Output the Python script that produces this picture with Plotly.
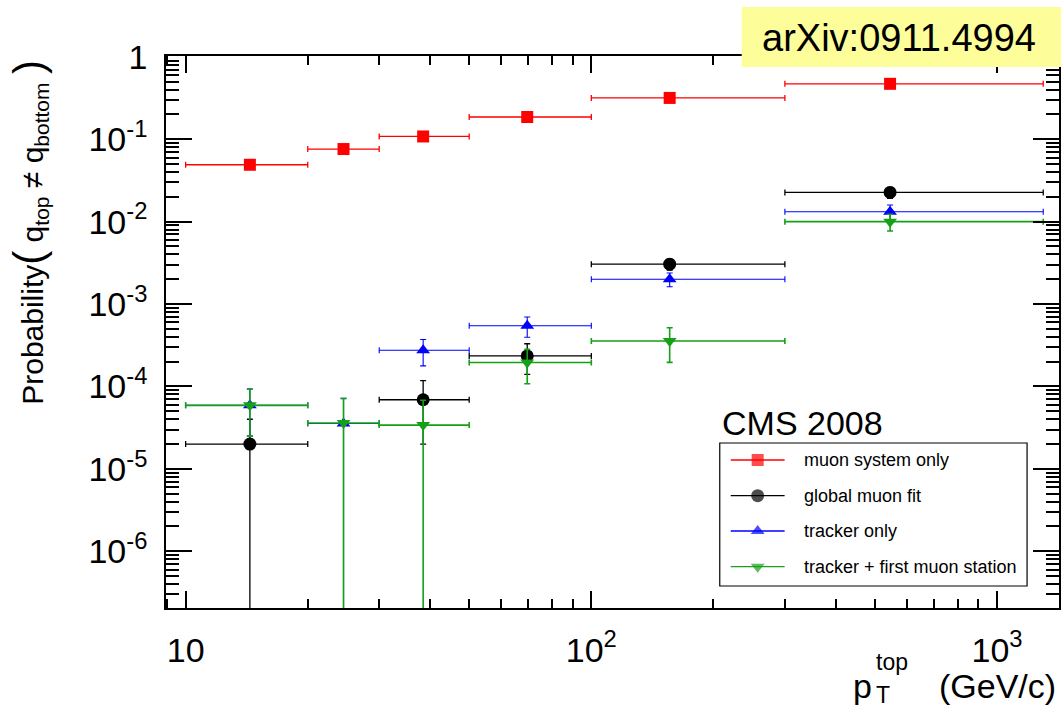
import plotly.graph_objects as go

# pT bins of the top quark (GeV/c) and mean pT inside each bin
bin_low = [10, 20, 30, 50, 100, 300]
bin_high = [20, 30, 50, 100, 300, 1300]
pt_mean = [14.4, 24.5, 38.5, 69.5, 156, 545]

# charge mis-assignment probability per reconstruction method
muon_system = [0.049, 0.076, 0.108, 0.186, 0.317, 0.47]
global_fit = [2.0e-5, None, 6.9e-5, 2.35e-4, 3.05e-3, 0.0226]
global_fit_err = [2.0e-5, None, 4.9e-5, 9.5e-5, 4.6e-4, 3.5e-3]
tracker = [5.9e-5, 3.55e-5, 2.75e-4, 5.46e-4, 2.0e-3, 0.0132]
tracker_err = [3.4e-5, 3.55e-5, 9.7e-5, 1.5e-4, 3.8e-4, 2.7e-3]
tracker_station = [5.9e-5, 3.6e-5, 3.4e-5, 1.95e-4, 3.56e-4, 0.0100]
tracker_station_err = [3.4e-5, 3.6e-5, 3.4e-5, 8.7e-5, 1.6e-4, 2.3e-3]

x_tick_vals = [10, 100, 1000]
x_tick_text = ["10", "10<sup>2</sup>", "10<sup>3</sup>"]
y_tick_vals = [1e-6, 1e-5, 1e-4, 1e-3, 1e-2, 1e-1, 1]
y_tick_text = ["10<sup>-6</sup>", "10<sup>-5</sup>", "10<sup>-4</sup>",
               "10<sup>-3</sup>", "10<sup>-2</sup>", "10<sup>-1</sup>", "1"]

legend_names = ["muon system only", "global muon fit", "tracker only",
                "tracker + first muon station"]

W, H = 1063, 710
ML, MR, MT, MB = 166, 2, 56, 102
PW, PH = W - ML - MR, H - MT - MB
FONT = "Liberation Sans, Arial, Helvetica, sans-serif"


def px(xp):
    return (xp - ML) / PW


def py(yp):
    return (H - MB - yp) / PH


# name, values, y errors, colour, marker, marker size, error-bar width
series = [
    (legend_names[0], muon_system, None, "#ff0000", "square", 12, 1.3),
    (legend_names[1], global_fit, global_fit_err, "#000000", "circle", 13, 1.3),
    (legend_names[2], tracker, tracker_err, "#0000ff", "triangle-up", 12, 1.1),
    (legend_names[3], tracker_station, tracker_station_err, "#15a015", "triangle-down", 12, 1.6),
]

err_plus = [h - m for h, m in zip(bin_high, pt_mean)]
err_minus = [m - l for l, m in zip(bin_low, pt_mean)]

fig = go.Figure()

for name, vals, errs, color, symbol, size, lw in series:
    keep = [i for i, v in enumerate(vals) if v is not None]
    xs = [pt_mean[i] for i in keep]
    ys = [vals[i] for i in keep]
    tr = dict(
        x=xs, y=ys, mode="markers", name=name, showlegend=False,
        marker=dict(symbol=symbol, size=size, color=color, line=dict(width=0)),
        error_x=dict(type="data", symmetric=False,
                     array=[err_plus[i] for i in keep],
                     arrayminus=[err_minus[i] for i in keep],
                     color=color, thickness=lw, width=3),
        cliponaxis=True,
    )
    if errs is not None:
        tr["error_y"] = dict(type="data", array=[errs[i] for i in keep],
                             color=color, thickness=lw, width=3)
    fig.add_trace(go.Scatter(**tr))

# legend box drawn on a pixel-based overlay axis pair
rows = [460, 495.7, 531, 566.7]
for (name, _, _, color, symbol, size, _), ry in zip(series, rows):
    fig.add_trace(go.Scatter(
        x=[732 - ML, 759 - ML, 786 - ML], y=[ry - MT] * 3,
        xaxis="x2", yaxis="y2", mode="lines+markers", showlegend=False,
        hoverinfo="skip",
        line=dict(color=color, width=1.3),
        marker=dict(symbol=symbol, size=[0, size, 0], color=color, line=dict(width=0)),
    ))

minor_x = [m * 10 ** d for d in range(0, 4) for m in range(2, 10)]
minor_y = [m * 10.0 ** d for d in range(-7, 1) for m in range(2, 10)]

axis_common = dict(
    type="log", showline=True, linecolor="black", linewidth=1.5,
    mirror="allticks", ticks="inside", tickwidth=1.5, tickcolor="black",
    showgrid=False, zeroline=False, tickmode="array",
    tickfont=dict(family=FONT, size=34, color="black"),
)

fig.update_layout(
    width=W, height=H,
    margin=dict(l=ML, r=MR, t=MT, b=MB, pad=0),
    paper_bgcolor="white", plot_bgcolor="white",
    showlegend=False,
    xaxis=dict(**axis_common, range=[0.9516, 3.1528], ticklen=17,
               tickvals=x_tick_vals, ticktext=x_tick_text, ticklabelstandoff=11,
               minor=dict(ticks="inside", ticklen=9, tickwidth=1.5, tickcolor="black",
                          tickvals=minor_x, showgrid=False)),
    yaxis=dict(**axis_common, range=[-6.688, 0.0097], ticklen=26,
               tickvals=y_tick_vals, ticktext=y_tick_text, ticklabelstandoff=10,
               minor=dict(ticks="inside", ticklen=13, tickwidth=1.5, tickcolor="black",
                          tickvals=minor_y, showgrid=False)),
    xaxis2=dict(domain=[0, 1], range=[0, PW], overlaying="x", anchor="y2",
                visible=False, fixedrange=True),
    yaxis2=dict(domain=[0, 1], range=[PH, 0], overlaying="y", anchor="x2",
                visible=False, fixedrange=True),
    shapes=[
        dict(type="rect", xref="x2", yref="y2", x0=721 - ML, x1=1029 - ML,
             y0=443 - MT, y1=586 - MT, line=dict(color="black", width=1.2),
             fillcolor="rgba(0,0,0,0)", layer="below"),
        dict(type="rect", xref="paper", yref="paper", x0=px(743), x1=px(1063),
             y0=py(67), y1=py(7), line=dict(width=0), fillcolor="#fdfd9a",
             layer="above"),
    ],
)

annotations = []
for name, ry in zip(legend_names, rows):
    annotations.append(dict(
        xref="paper", yref="paper", x=px(803), y=py(ry), xanchor="left",
        yanchor="middle", text=name, showarrow=False,
        font=dict(family=FONT, size=18, color="black")))

annotations += [
    dict(xref="paper", yref="paper", x=px(721), y=py(423), xanchor="left",
         yanchor="middle", text="CMS 2008", showarrow=False,
         font=dict(family=FONT, size=34, color="black")),
    dict(xref="paper", yref="paper", x=px(901), y=py(38), xanchor="center",
         yanchor="middle", text="arXiv:0911.4994", showarrow=False,
         font=dict(family=FONT, size=38, color="black")),
    # y-axis title
    dict(xref="paper", yref="paper", x=px(28), y=py(58), xanchor="center",
         yanchor="top", textangle=-90, showarrow=False,
         text=("Probability<span style=\"font-size:42px\">(</span> q<sub>top</sub>"
               " \u2260 q<sub>bottom</sub> <span style=\"font-size:42px\">)</span>"),
         font=dict(family=FONT, size=30, color="black")),
    # x-axis title, with stacked super/subscript
    dict(xref="paper", yref="paper", x=px(1060), y=py(686), xanchor="right",
         yanchor="middle", text="(GeV/c)", showarrow=False,
         font=dict(family=FONT, size=34, color="black")),
    dict(xref="paper", yref="paper", x=px(876), y=py(686), xanchor="right",
         yanchor="middle", text="p", showarrow=False,
         font=dict(family=FONT, size=34, color="black")),
    dict(xref="paper", yref="paper", x=px(876), y=py(662), xanchor="left",
         yanchor="middle", text="top", showarrow=False,
         font=dict(family=FONT, size=23, color="black")),
    dict(xref="paper", yref="paper", x=px(876), y=py(695), xanchor="left",
         yanchor="middle", text="T", showarrow=False,
         font=dict(family=FONT, size=23, color="black")),
]
fig.update_layout(annotations=annotations)

fig.write_html("out.html")
